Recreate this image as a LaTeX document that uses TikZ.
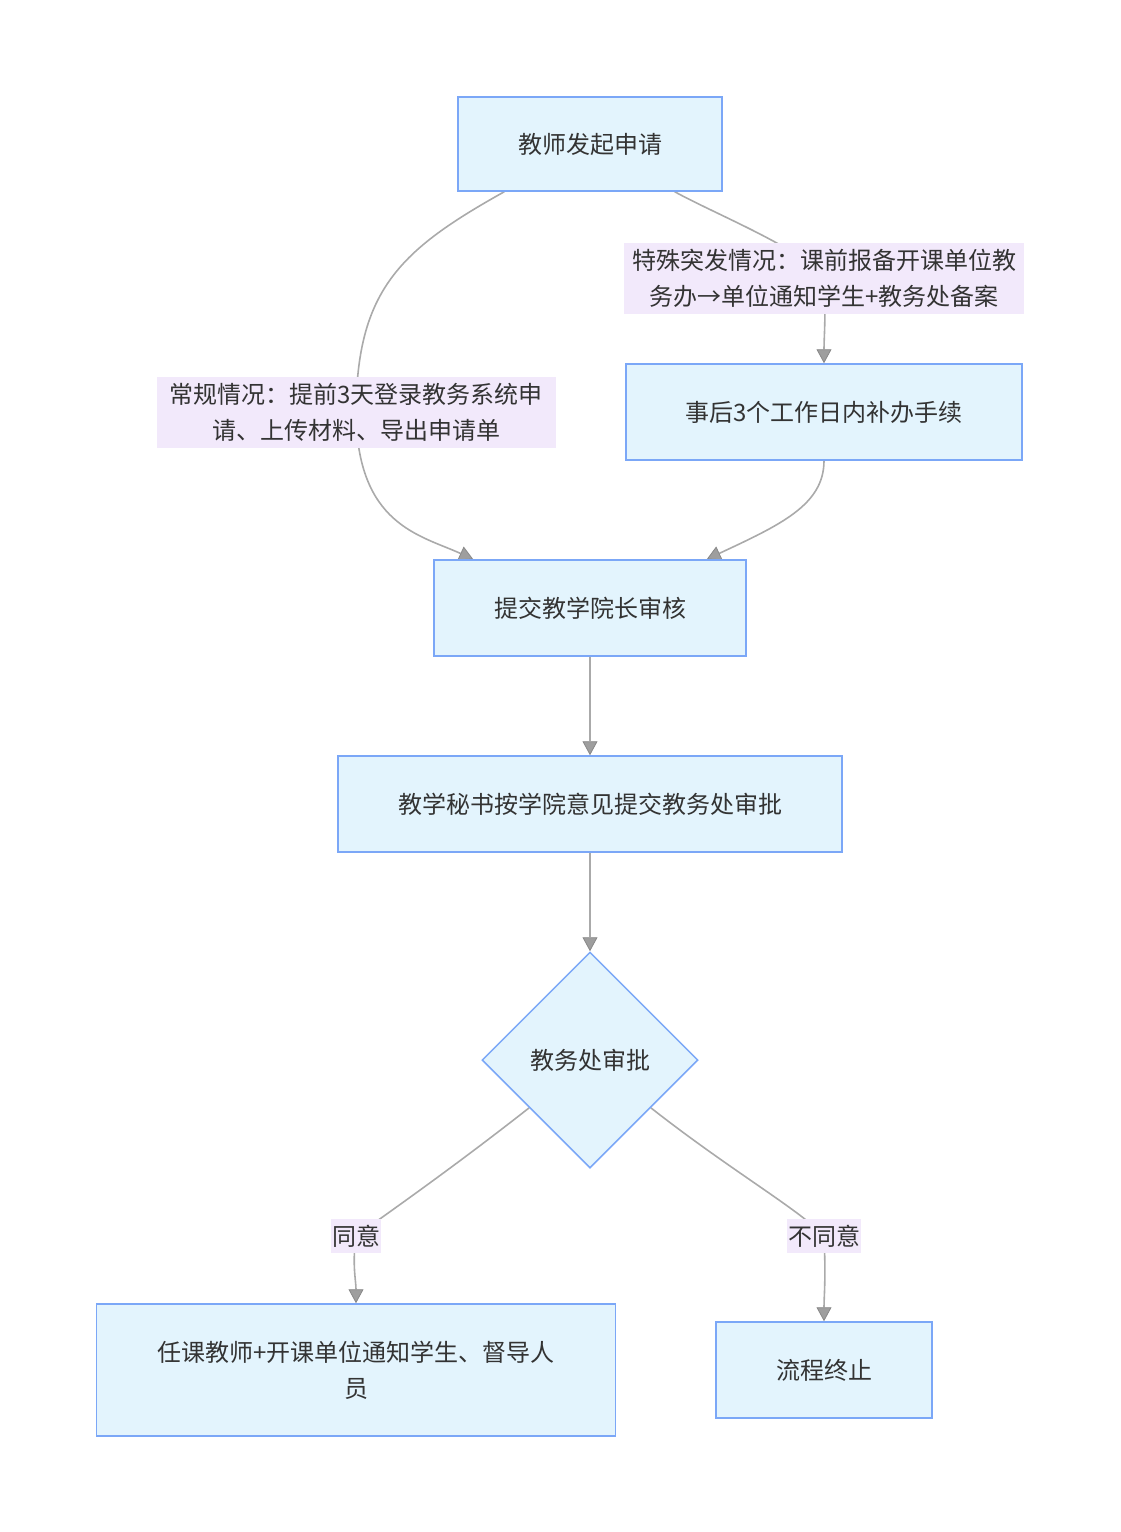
\documentclass[tikz,border=0pt]{standalone}
\usepackage{fontspec}
\setmainfont{Noto Sans CJK SC}
\usetikzlibrary{shapes.geometric,arrows.meta,calc,backgrounds}
\definecolor{nodefill}{HTML}{E3F4FD}
\definecolor{nodedraw}{HTML}{7BA7F7}
\definecolor{lblfill}{HTML}{F2E9FB}
\definecolor{edgecol}{HTML}{AAAAAA}
\definecolor{arrowfill}{HTML}{9E9E9E}
\definecolor{arrowline}{HTML}{888888}
\definecolor{txt}{HTML}{333333}
\tikzset{
  box/.style={draw=nodedraw, fill=nodefill, line width=1.5pt, text=txt, align=center, inner sep=0pt},
  dia/.style={diamond, draw=nodedraw, fill=nodefill, line width=1.5pt, text=txt, align=center, inner sep=0pt, minimum width=216pt, minimum height=216pt},
  lbl/.style={fill=lblfill, text=txt, align=center, inner sep=1pt},
  edge/.style={draw=edgecol, line width=1.6pt, -{Triangle[length=14pt,width=15pt,color=arrowline,fill=arrowfill,line width=0.8pt]}},
  edgeline/.style={draw=edgecol, line width=1.6pt},
}
\begin{document}
\begin{tikzpicture}[x=1pt,y=-1pt,font=\fontsize{24pt}{36pt}\selectfont]
\useasboundingbox (0,0) rectangle (1120,1532);
\node[box, minimum width=264pt, minimum height=94pt] (A) at (590,144) {教师发起申请};
\node[box, minimum width=396pt, minimum height=96pt] (B) at (824,412) {事后3个工作日内补办手续};
\node[box, minimum width=312pt, minimum height=96pt] (C) at (590,608) {提交教学院长审核};
\node[box, minimum width=504pt, minimum height=96pt] (D) at (590,804) {教学秘书按学院意见提交教务处审批};
\node[dia] (E) at (590,1060) {教务处审批};
\node[box, minimum width=519pt, minimum height=132pt] (F) at (356,1370) {任课教师+开课单位通知学生、督导人\\员};
\node[box, minimum width=216pt, minimum height=96pt] (G) at (824,1370) {流程终止};

\node[lbl, minimum width=399pt, minimum height=71pt] (L1) at (356,412) {常规情况：提前3天登录教务系统申\\请、上传材料、导出申请单};
\node[lbl, minimum width=400pt, minimum height=71pt] (L2) at (824,278) {特殊突发情况：课前报备开课单位教\\务办→单位通知学生+教务处备案};
\node[lbl, minimum height=34pt] (L3) at (356,1236) {同意};
\node[lbl, minimum height=34pt] (L4) at (824,1236) {不同意};

\coordinate (a1) at ([xshift=47pt]A.south west);
\coordinate (a2) at ([xshift=-48pt]A.south east);
\coordinate (c1) at ([xshift=40pt]C.north west);
\coordinate (c2) at ([xshift=-40pt]C.north east);
\coordinate (e1) at ($(E.west)!0.44!(E.south)$);
\coordinate (e2) at ($(E.east)!0.44!(E.south)$);

\begin{pgfonlayer}{background}
\draw[edgeline] (a1) .. controls (400,250) and (357,290) .. (L1.center);
\draw[edge] (L1.center) .. controls (357,525) and (420,535) .. (c1);
\draw[edgeline] (a2) .. controls (715,214) and (805,250) .. (L2.center);
\draw[edge] (L2.center) .. controls (826,320) and (824,335) .. (B.north);
\draw[edge] (B.south) .. controls (824,505) and (780,525) .. (c2);
\draw[edge] (C.south) -- (D.north);
\draw[edge] (D.south) -- (E.north);
\draw[edgeline] (e1) .. controls (450,1170) and (385,1215) .. (L3.center);
\draw[edge] (L3.center) .. controls (352,1265) and (356,1280) .. (F.north);
\draw[edgeline] (e2) .. controls (730,1170) and (800,1210) .. (L4.center);
\draw[edge] (L4.center) .. controls (826,1280) and (824,1295) .. (G.north);
\end{pgfonlayer}
\end{tikzpicture}
\end{document}
